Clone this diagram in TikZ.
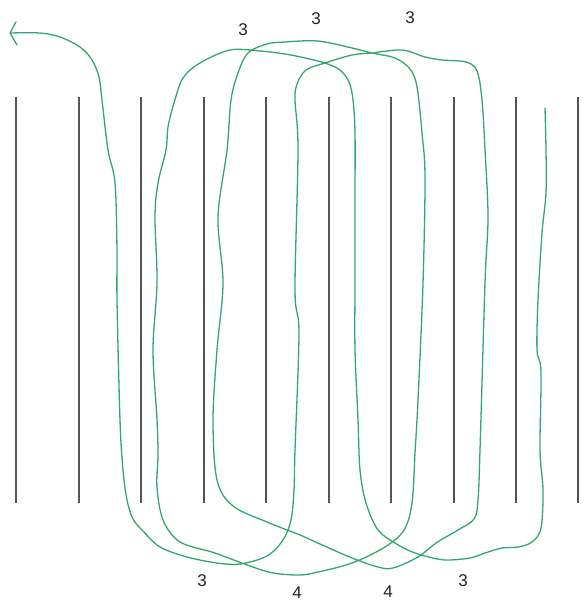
\documentclass[tikz,border=0pt]{standalone}
\usepackage{fontspec}
\setmainfont{Liberation Sans}
\definecolor{yarn}{RGB}{52,166,112}
\definecolor{pin}{RGB}{85,85,85}
\begin{document}
\begin{tikzpicture}[x=1pt,y=-1pt,
  pinline/.style={draw=pin,line width=1.6pt},
  yarnline/.style={draw=yarn,line width=1.3pt,line cap=round,line join=round},
  lab/.style={font=\fontsize{17}{17}\selectfont,text=black!85,inner sep=0pt}]
\useasboundingbox (0,0) rectangle (585,601);
\foreach \x [count=\i] in {16,79,141,204,266,329,391,454,516,578}{
  \coordinate (t\i) at (\x,97);
  \coordinate (b\i) at (\x,503);
  \draw[pinline] (t\i) -- (b\i);
}
\draw[yarnline] plot[smooth,tension=0.55] coordinates {
 (545,108) (546,150) (546,193) (542,233) (538,300) (537,350) (541,372) (540,450)
 (543,490) (541,528) (532,542) (518,547) (502,548) (485,553) (470,558) (445,560)
 (425,556) (410,551) (395,543) (378,530) (366,503) (360,470) (358,420) (355,350)
 (355,283) (355,200) (355,133) (353,100) (349,82) (340,70) (325,63) (305,58)
 (285,54) (260,51) (230,50) (200,63) (183,78) (174,103) (168,127) (166,150)
 (158,183) (155,217) (157,283) (153,350) (157,420) (158,455) (157,487) (163,520)
 (180,542) (215,553) (250,566) (273,573) (300,575) (318,572) (352,563) (385,547)
 (404,530) (412,503) (415,453) (418,400) (423,283) (425,177) (422,133) (417,87)
 (410,69) (395,58) (372,53) (352,48) (318,41) (285,42) (267,44) (248,53)
 (238,73) (231,100) (227,150) (218,217) (223,283) (217,350) (213,420) (217,480)
 (233,506) (267,522) (300,535) (320,544) (352,558) (378,567) (393,568) (418,557)
 (436,543) (458,530) (474,519) (478,500) (480,450) (485,283) (488,217) (485,150)
 (482,100) (477,71) (466,62) (442,60) (425,57) (402,50) (372,53) (352,55)
 (325,63) (306,70) (297,84) (295,100) (298,150) (295,290) (299,333) (295,450)
 (294,490) (291,520) (283,540) (267,556) (240,564) (217,563) (187,557) (160,547)
 (143,531) (133,519) (127,500) (123,470) (120,420) (117,300) (117,250) (115,183)
 (108,150) (102,100) (99,77) (92,60) (80,47) (60,37) (40,33) (11,33)
};
\coordinate (tip) at (10,33);
\coordinate (barbA) at (16,22);
\coordinate (barbB) at (17,45);
\draw[yarnline] (barbA) -- (tip) -- (barbB);
\node[lab] (l1) at (243,30) {3};
\node[lab] (l2) at (316,19) {3};
\node[lab] (l3) at (410,18) {3};
\node[lab] (l4) at (202,581) {3};
\node[lab] (l5) at (297,593) {4};
\node[lab] (l6) at (388,592) {4};
\node[lab] (l7) at (463,581) {3};
\end{tikzpicture}
\end{document}
